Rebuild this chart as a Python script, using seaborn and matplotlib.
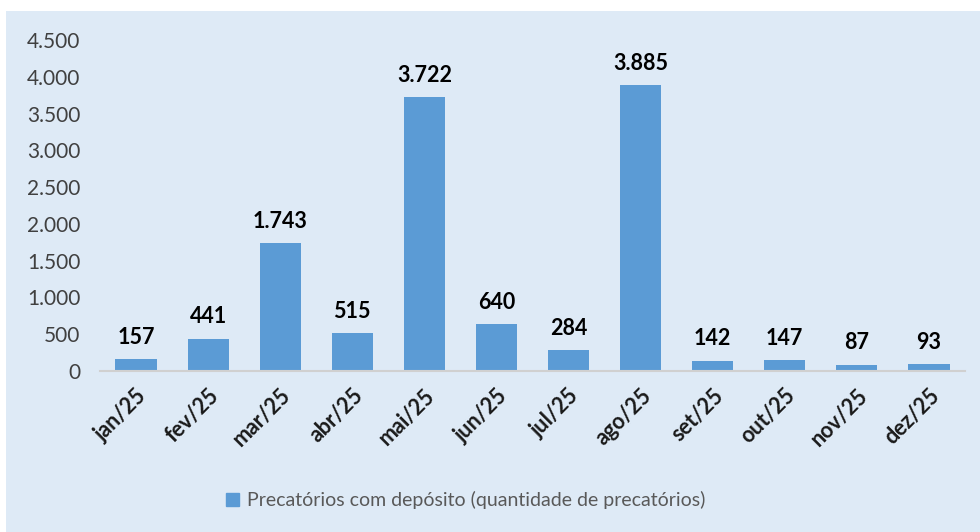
import matplotlib
matplotlib.use('Agg')
import matplotlib.pyplot as plt
import matplotlib.patches as mpatches
import seaborn as sns
import pandas as pd

# Data
months = ['jan/25', 'fev/25', 'mar/25', 'abr/25', 'mai/25', 'jun/25',
          'jul/25', 'ago/25', 'set/25', 'out/25', 'nov/25', 'dez/25']
values = [157, 441, 1743, 515, 3722, 640, 284, 3885, 142, 147, 87, 93]
yticks = [0, 500, 1000, 1500, 2000, 2500, 3000, 3500, 4000, 4500]
series_label = 'Precatórios com depósito (quantidade de precatórios)'

BG = '#DEEAF6'
BAR = '#5B9BD5'

sns.set_style('white')
plt.rcParams['font.family'] = ['Lato', 'DejaVu Sans']


def fmt_br(v):
    return f'{v:,}'.replace(',', '.')


df = pd.DataFrame({'mes': months, 'qtd': values})

fig = plt.figure(figsize=(9.8, 5.32), dpi=100, facecolor='white')
# light blue panel behind the chart
fig.patches.append(mpatches.Rectangle((6 / 980, 0), 1, 1 - 11 / 532,
                                      transform=fig.transFigure,
                                      facecolor=BG, edgecolor='none', zorder=-10))

ax = fig.add_axes([100 / 980, 1 - 371 / 532, 865 / 980, 331 / 532])
ax.set_facecolor('none')

sns.barplot(data=df, x='mes', y='qtd', color=BAR, width=0.57, ax=ax,
            saturation=1, linewidth=0, label=series_label)

ax.set_ylim(0, 4500)
ax.set_xlim(-0.5, len(months) - 0.5)
ax.set_yticks(yticks)
ax.set_yticklabels([fmt_br(t) for t in yticks], fontsize=15, color='#404040')
ax.set_xticks(range(len(months)))
ax.set_xticklabels(months, rotation=45, ha='right', rotation_mode='anchor',
                   fontsize=15.5, fontweight='bold', color='#1a1a1a')
ax.tick_params(axis='both', length=0)
ax.tick_params(axis='y', pad=14)
ax.tick_params(axis='x', pad=10)
ax.set_xlabel('')
ax.set_ylabel('')

for side in ['top', 'right', 'left']:
    ax.spines[side].set_visible(False)
ax.spines['bottom'].set_color('#D0D0D0')
ax.spines['bottom'].set_linewidth(1.5)

# value labels above the bars
for i, v in enumerate(values):
    ax.annotate(fmt_br(v), (i, v), xytext=(0, 8), textcoords='offset points',
                ha='center', va='bottom', fontsize=15.5, fontweight='bold',
                color='#000000')

handle = mpatches.Patch(color=BAR, label=series_label)
fig.legend(handles=[handle], loc='center', bbox_to_anchor=(0.475, 0.06),
           frameon=False, fontsize=14, labelcolor='#595959',
           handlelength=0.7, handleheight=0.7, handletextpad=0.4)
if ax.get_legend() is not None:
    ax.get_legend().remove()

fig.savefig('out.png', dpi=100, facecolor=fig.get_facecolor())
